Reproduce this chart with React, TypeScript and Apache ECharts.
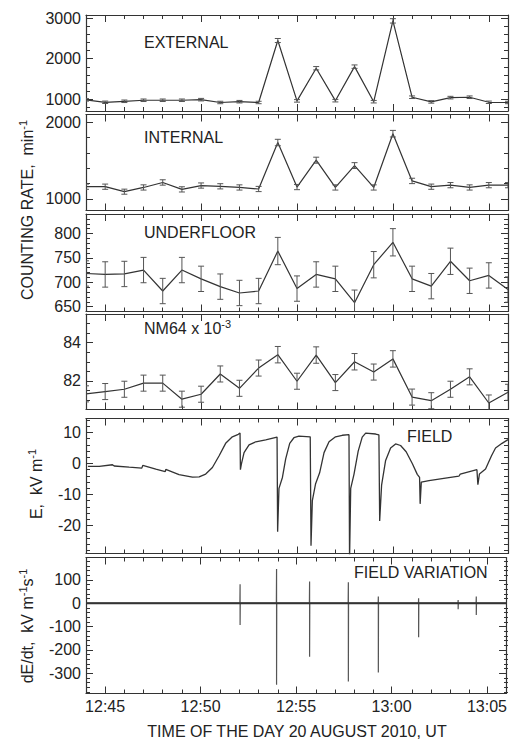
import React, { useEffect, useRef } from "react";
import * as echarts from "echarts";

// Time axis: minutes relative to 12:45 UT (20 August 2010)
const rateMinutes = [-1, 0, 1, 2, 3, 4, 5, 6, 7, 8, 9, 10, 11, 12, 13, 14, 15, 16, 17, 18, 19, 20, 21];
const timeTickValues = [0, 5, 10, 15, 20];
const timeTickLabels = ["12:45", "12:50", "12:55", "13:00", "13:05"];

// Counting rates (per minute) with error bars
const externalRate = [985, 925, 950, 975, 975, 975, 990, 920, 940, 920, 2450, 960, 1765, 965, 1805, 940, 2935, 1050, 935, 1040, 1050, 925, 920];
const externalErr = [31, 30, 31, 31, 31, 31, 31, 30, 31, 30, 50, 31, 42, 31, 42, 31, 54, 32, 31, 32, 32, 30, 30];
const internalRate = [1160, 1160, 1095, 1150, 1215, 1125, 1175, 1165, 1150, 1130, 1735, 1155, 1505, 1150, 1435, 1150, 1850, 1235, 1160, 1180, 1150, 1180, 1180];
const internalErr = [34, 34, 33, 34, 35, 34, 34, 34, 34, 34, 42, 34, 39, 34, 38, 34, 43, 35, 34, 34, 34, 34, 34];
const underfloorRate = [718, 716, 717, 725, 682, 725, 707, 691, 678, 682, 764, 687, 716, 707, 658, 736, 782, 707, 692, 743, 703, 714, 685];
const underfloorErr = [26, 26, 26, 26, 26, 26, 26, 26, 26, 26, 28, 26, 26, 26, 26, 27, 28, 26, 26, 27, 26, 26, 26];
const nm64Rate = [81.32, 81.44, 81.56, 81.88, 81.88, 81.04, 81.3, 82.36, 81.61, 82.67, 83.37, 81.98, 83.35, 81.91, 83.0, 82.46, 83.15, 81.15, 80.96, 81.56, 82.21, 80.84, 81.4];
const nm64Err = [0.42, 0.42, 0.42, 0.42, 0.42, 0.42, 0.42, 0.42, 0.42, 0.42, 0.43, 0.42, 0.43, 0.42, 0.43, 0.42, 0.43, 0.42, 0.42, 0.42, 0.42, 0.42, 0.42];

// Electric field E (kV/m): [minute, value]
const fieldSamples: [number, number][] = [
  [-0.9, -0.9], [-0.31, -0.9], [0.38, -0.4], [0.47, -0.8], [1.25, -1.2], [1.91, -1.5], [1.96, -0.6],
  [2.64, -1.8], [3.13, -2.6], [3.16, -1.9], [3.85, -3.6], [4.55, -4.4], [4.9, -4.3], [5.24, -3.4],
  [5.59, -1.3], [5.94, 2.5], [6.28, 6.5], [6.63, 8.6], [6.94, 9.4], [7.03, 9.8], [7.05, -2.0],
  [7.1, -0.2], [7.24, 3.5], [7.5, 6.0], [7.85, 7.0], [8.37, 7.6], [8.96, 8.5], [8.99, -22.0],
  [9.06, -8.0], [9.24, -4.5], [9.41, 1.5], [9.62, 6.5], [9.84, 8.3], [10.1, 8.8], [10.69, 8.6],
  [10.73, -26.5], [10.8, -12], [10.97, -6.5], [11.18, -3.0], [11.41, 3.5], [11.67, 7.0], [12.01, 8.6],
  [12.36, 9.1], [12.71, 9.3], [12.74, -31], [12.8, -8], [12.97, -3.5], [13.19, 4.0], [13.4, 8.5],
  [13.58, 9.8], [14.1, 9.5], [14.27, 9.2], [14.31, -18.5], [14.41, -7], [14.62, 1.0], [14.88, 5.0],
  [15.14, 6.3], [15.4, 5.8], [15.69, 3.8], [16.01, 0.0], [16.27, -3.5], [16.39, -4.5], [16.42, -13.0],
  [16.48, -6.0], [16.88, -5.5], [17.74, -4.7], [18.44, -4.1], [18.51, -3.4], [19.38, -2.0], [19.43, -6.8],
  [19.51, -3.4], [19.83, -1.8], [20.14, 2.5], [20.35, 5.0], [20.69, 6.5], [21.0, 7.7],
];

// Field variation dE/dt (kV m^-1 s^-1): [minute, value]
const variationSamples: [number, number][] = [
  [-1, 0], [7.06, 0], [7.07, 81], [7.07, -93], [7.08, 0], [8.97, 0], [8.98, 147], [8.98, -350], [8.99, 0],
  [10.7, 0], [10.71, 93], [10.71, -229], [10.72, 0], [12.73, 0], [12.74, 90], [12.74, -336], [12.75, 0],
  [14.3, 0], [14.31, 29], [14.31, -297], [14.32, 0], [16.41, 0], [16.42, 21], [16.42, -146], [16.43, 0],
  [18.48, 0], [18.49, 14], [18.49, -26], [18.5, 0], [19.43, 0], [19.44, 29], [19.44, -50], [19.45, 0], [21, 0],
];

const FONT = "Liberation Sans, Arial, Helvetica, sans-serif";
const INK = "#222";
const FRAME = "#333";

function range(start: number, end: number, step: number): number[] {
  const out: number[] = [];
  const n = Math.round((end - start) / step);
  for (let i = 0; i <= n; i++) out.push(+(start + i * step).toFixed(6));
  return out;
}

export default function App() {
  const ref = useRef<HTMLDivElement>(null);

  useEffect(() => {
    if (!ref.current) return;
    const chart = echarts.init(ref.current, null, { renderer: "svg" });

    const panels = [
      { top: 15, height: 96, min: 710, max: 3080, labels: [1000, 2000, 3000], minor: range(800, 3000, 200), rate: externalRate, err: externalErr },
      { top: 114.5, height: 96, min: 850, max: 2100, labels: [1000, 2000], minor: range(1000, 2000, 200), rate: internalRate, err: internalErr },
      { top: 214, height: 97.5, min: 640, max: 840, labels: [650, 700, 750, 800], minor: range(650, 840, 10), rate: underfloorRate, err: underfloorErr },
      { top: 314, height: 95.5, min: 80.5, max: 85.5, labels: [82, 84], minor: range(81, 85.5, 0.5), rate: nm64Rate, err: nm64Err },
      { top: 418.5, height: 135, min: -29, max: 14.5, labels: [-20, -10, 0, 10], minor: range(-28, 14, 2) },
      { top: 557.5, height: 136, min: -387, max: 196, labels: [-300, -200, -100, 0, 100], minor: range(-380, 180, 20) },
    ];

    const minorTime = range(-1, 21, 1).filter((v) => timeTickValues.indexOf(v) < 0 && v > -1 && v < 21);

    const grids: any[] = [];
    const xAxes: any[] = [];
    const yAxes: any[] = [];
    const series: any[] = [];

    const lineStyleFrame = { color: FRAME, width: 1.2 };

    panels.forEach((p, i) => {
      const isLast = i === panels.length - 1;
      // major grid (2*i), minor-tick grid (2*i+1)
      grids.push({ left: 86, right: 2, top: p.top, height: p.height, containLabel: false });
      grids.push({ left: 86, right: 2, top: p.top, height: p.height, containLabel: false });
      const gA = 2 * i;
      const gB = 2 * i + 1;

      const xBase = {
        type: "value",
        min: -1,
        max: 21,
        splitLine: { show: false },
      };
      xAxes.push({
        ...xBase,
        gridIndex: gA,
        position: "bottom",
        axisLine: { show: true, onZero: false, lineStyle: lineStyleFrame },
        axisTick: { show: true, inside: true, length: 7, customValues: timeTickValues, lineStyle: { color: FRAME } },
        axisLabel: {
          show: isLast,
          customValues: timeTickValues,
          formatter: (v: number) => timeTickLabels[timeTickValues.indexOf(v)] || "",
          fontSize: 16,
          fontFamily: FONT,
          color: INK,
          margin: 5,
        },
      });
      xAxes.push({
        ...xBase,
        gridIndex: gA,
        position: "top",
        axisLine: { show: true, onZero: false, lineStyle: lineStyleFrame },
        axisTick: { show: true, inside: true, length: 7, customValues: timeTickValues, lineStyle: { color: FRAME } },
        axisLabel: { show: false },
      });
      xAxes.push({
        ...xBase,
        gridIndex: gB,
        position: "bottom",
        axisLine: { show: false, onZero: false },
        axisTick: { show: true, inside: true, length: 4, customValues: minorTime, lineStyle: { color: FRAME } },
        axisLabel: { show: false },
      });
      xAxes.push({
        ...xBase,
        gridIndex: gB,
        position: "top",
        axisLine: { show: false, onZero: false },
        axisTick: { show: true, inside: true, length: 4, customValues: minorTime, lineStyle: { color: FRAME } },
        axisLabel: { show: false },
      });

      const yBase = { type: "value", min: p.min, max: p.max, splitLine: { show: false } };
      yAxes.push({
        ...yBase,
        gridIndex: gA,
        position: "left",
        axisLine: { show: true, onZero: false, lineStyle: lineStyleFrame },
        axisTick: { show: true, inside: true, length: 7, customValues: p.labels, lineStyle: { color: FRAME } },
        axisLabel: {
          show: true,
          customValues: p.labels,
          formatter: (v: number) => String(v),
          fontSize: 16,
          fontFamily: FONT,
          color: INK,
          margin: 5,
        },
      });
      yAxes.push({
        ...yBase,
        gridIndex: gA,
        position: "right",
        axisLine: { show: true, onZero: false, lineStyle: lineStyleFrame },
        axisTick: { show: true, inside: true, length: 7, customValues: p.labels, lineStyle: { color: FRAME } },
        axisLabel: { show: false },
      });
      const minorY = p.minor.filter((v) => p.labels.indexOf(v) < 0 && v > p.min && v < p.max);
      yAxes.push({
        ...yBase,
        gridIndex: gB,
        position: "left",
        axisLine: { show: false, onZero: false },
        axisTick: { show: true, inside: true, length: 4, customValues: minorY, lineStyle: { color: FRAME } },
        axisLabel: { show: false },
      });
      yAxes.push({
        ...yBase,
        gridIndex: gB,
        position: "right",
        axisLine: { show: false, onZero: false },
        axisTick: { show: true, inside: true, length: 4, customValues: minorY, lineStyle: { color: FRAME } },
        axisLabel: { show: false },
      });

      const xIdx = 4 * i;
      const yIdx = 4 * i;

      if (p.rate) {
        const rate = p.rate as number[];
        const err = p.err as number[];
        series.push({
          type: "line",
          xAxisIndex: xIdx,
          yAxisIndex: yIdx,
          data: rateMinutes.map((m, k) => [m, rate[k]]),
          symbol: "none",
          lineStyle: { color: "#333", width: 1.2 },
          clip: true,
          z: 3,
        });
        series.push({
          type: "custom",
          xAxisIndex: xIdx,
          yAxisIndex: yIdx,
          clip: true,
          data: rateMinutes.map((m, k) => [m, rate[k] - err[k], rate[k] + err[k]]),
          renderItem: (_params: any, api: any) => {
            const x = api.value(0);
            const lo = api.coord([x, api.value(1)]);
            const hi = api.coord([x, api.value(2)]);
            const hw = 3;
            const st = { stroke: "#555", lineWidth: 1 };
            return {
              type: "group",
              children: [
                { type: "line", shape: { x1: lo[0], y1: lo[1], x2: hi[0], y2: hi[1] }, style: st },
                { type: "line", shape: { x1: lo[0] - hw, y1: lo[1], x2: lo[0] + hw, y2: lo[1] }, style: st },
                { type: "line", shape: { x1: hi[0] - hw, y1: hi[1], x2: hi[0] + hw, y2: hi[1] }, style: st },
              ],
            };
          },
          z: 4,
        });
      } else if (i === 4) {
        series.push({
          type: "line",
          xAxisIndex: xIdx,
          yAxisIndex: yIdx,
          data: fieldSamples,
          symbol: "none",
          lineStyle: { color: "#333", width: 1.3 },
          clip: true,
        });
      } else {
        series.push({
          type: "line",
          xAxisIndex: xIdx,
          yAxisIndex: yIdx,
          data: variationSamples,
          symbol: "none",
          lineStyle: { color: "#555", width: 1.2 },
          clip: true,
        });
        series.push({
          type: "line",
          xAxisIndex: xIdx,
          yAxisIndex: yIdx,
          data: [[-1, 0], [21, 0]],
          symbol: "none",
          lineStyle: { color: "#333", width: 2 },
          clip: true,
        });
      }
    });

    const lbl = (x: number, y: number, text: string) => ({
      type: "text",
      x,
      y,
      style: { text, fill: INK, font: `16px ${FONT}`, verticalAlign: "middle", align: "left" },
    });

    const richStyles = {
      a: { fontSize: 16, fontFamily: FONT, fill: INK, lineHeight: 20 },
      s: { fontSize: 11, fontFamily: FONT, fill: INK, verticalAlign: "top", lineHeight: 11 },
    };

    const option: any = {
      animation: false,
      backgroundColor: "#fff",
      textStyle: { fontFamily: FONT },
      grid: grids,
      xAxis: xAxes,
      yAxis: yAxes,
      series,
      graphic: [
        lbl(144, 42, "EXTERNAL"),
        lbl(144, 137, "INTERNAL"),
        lbl(144, 232, "UNDERFLOOR"),
        {
          type: "text",
          x: 144,
          y: 328,
          style: { text: "{a|NM64 x 10}{s|-3}", rich: richStyles, verticalAlign: "middle", align: "left" },
        },
        lbl(407, 436, "FIELD"),
        lbl(354, 572, "FIELD VARIATION"),
        {
          type: "text",
          x: 27,
          y: 210,
          rotation: Math.PI / 2,
          style: { text: "{a|COUNTING RATE,  min}{s|-1}", rich: richStyles, align: "center", verticalAlign: "middle" },
        },
        {
          type: "text",
          x: 36,
          y: 484,
          rotation: Math.PI / 2,
          style: { text: "{a|E,  kV m}{s|-1}", rich: richStyles, align: "center", verticalAlign: "middle" },
        },
        {
          type: "text",
          x: 27,
          y: 626,
          rotation: Math.PI / 2,
          style: { text: "{a|dE/dt,  kV m}{s|-1}{a|s}{s|-1}", rich: richStyles, align: "center", verticalAlign: "middle" },
        },
        {
          type: "text",
          x: 297,
          y: 731,
          style: { text: "TIME OF THE DAY 20 AUGUST 2010, UT", fill: INK, font: `16px ${FONT}`, align: "center", verticalAlign: "middle" },
        },
      ],
    };

    chart.setOption(option);
    return () => chart.dispose();
  }, []);

  return <div ref={ref} style={{ position: "fixed", left: 0, top: 0, width: 510, height: 740 }} />;
}
